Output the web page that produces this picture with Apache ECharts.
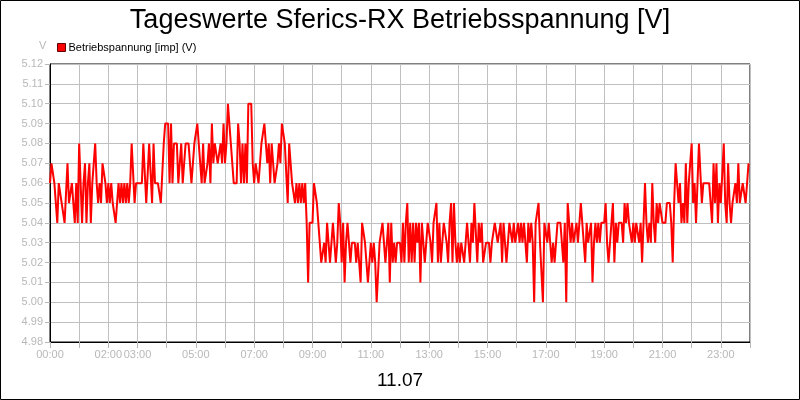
<!DOCTYPE html>
<html>
<head>
<meta charset="utf-8">
<script src="https://cdn.jsdelivr.net/npm/echarts@6/dist/echarts.min.js"></script>
<style>
html,body{margin:0;padding:0;background:#fff;}
#chart{width:800px;height:400px;}
</style>
</head>
<body>
<div id="chart"></div>
<script>
// ---- data (3-minute samples, 00:00 .. 23:57), one row per hour ----
const titleText = 'Tageswerte Sferics-RX Betriebsspannung [V]';
const dateText = '11.07';
const seriesName = 'Betriebspannung [imp] (V)';
const stepMinutes = 3;
const hourLabels = ['00:00','','02:00','03:00','','05:00','','07:00','','09:00','','11:00','','13:00','','15:00','','17:00','','19:00','','21:00','','23:00',''];
const yMin = 4.98, yMax = 5.12, yStep = 0.01;

const voltage = [
  5.06,5.07,5.07,5.06,5.06,5.04,5.06,5.06,5.05,5.05,5.04,5.04,5.07,5.05,5.05,5.06,5.06,5.04,5.06,5.04,
  5.08,5.06,5.04,5.06,5.07,5.04,5.06,5.07,5.04,5.06,5.07,5.08,5.06,5.05,5.06,5.05,5.07,5.07,5.06,5.05,
  5.06,5.05,5.06,5.05,5.05,5.04,5.04,5.06,5.05,5.06,5.05,5.06,5.05,5.06,5.05,5.06,5.08,5.08,5.05,5.06,
  5.06,5.06,5.06,5.06,5.08,5.08,5.05,5.05,5.08,5.08,5.05,5.08,5.06,5.06,5.06,5.06,5.05,5.05,5.08,5.09,
  5.09,5.09,5.06,5.09,5.06,5.08,5.08,5.08,5.06,5.06,5.08,5.06,5.07,5.08,5.08,5.08,5.07,5.06,5.06,5.08,
  5.08,5.09,5.09,5.07,5.06,5.08,5.06,5.06,5.07,5.08,5.06,5.09,5.07,5.08,5.08,5.07,5.07,5.08,5.07,5.09,
  5.07,5.08,5.10,5.10,5.08,5.08,5.06,5.06,5.06,5.09,5.08,5.06,5.08,5.06,5.08,5.06,5.10,5.10,5.10,5.07,
  5.06,5.07,5.07,5.06,5.07,5.08,5.08,5.09,5.09,5.07,5.08,5.06,5.08,5.07,5.06,5.06,5.07,5.08,5.07,5.09,
  5.09,5.08,5.08,5.05,5.08,5.07,5.06,5.06,5.05,5.06,5.05,5.06,5.05,5.06,5.05,5.06,5.04,5.01,5.04,5.04,
  5.04,5.06,5.06,5.05,5.04,5.04,5.02,5.02,5.03,5.02,5.04,5.04,5.02,5.02,5.04,5.03,5.02,5.03,5.05,5.04,
  5.02,5.04,5.01,5.03,5.04,5.04,5.02,5.03,5.03,5.03,5.02,5.03,5.03,5.01,5.04,5.04,5.03,5.02,5.01,5.01,
  5.03,5.02,5.03,5.02,5.00,5.00,5.03,5.03,5.04,5.04,5.02,5.03,5.04,5.01,5.04,5.02,5.03,5.02,5.03,5.03,
  5.03,5.02,5.04,5.02,5.04,5.05,5.02,5.04,5.02,5.04,5.02,5.04,5.03,5.04,5.01,5.04,5.04,5.02,5.03,5.04,
  5.04,5.03,5.02,5.04,5.04,5.05,5.02,5.04,5.02,5.03,5.04,5.04,5.03,5.02,5.04,5.05,5.02,5.05,5.03,5.02,
  5.03,5.02,5.03,5.03,5.02,5.03,5.04,5.04,5.02,5.04,5.03,5.05,5.05,5.02,5.04,5.03,5.04,5.02,5.02,5.03,
  5.03,5.03,5.02,5.03,5.03,5.04,5.04,5.03,5.03,5.04,5.02,5.04,5.03,5.02,5.02,5.04,5.04,5.03,5.04,5.03,
  5.03,5.04,5.03,5.04,5.03,5.04,5.04,5.02,5.04,5.03,5.04,5.03,5.00,5.04,5.04,5.05,5.03,5.03,5.00,5.04,
  5.04,5.03,5.04,5.03,5.02,5.03,5.02,5.03,5.04,5.04,5.04,5.04,5.02,5.04,5.00,5.05,5.05,5.03,5.04,5.03,
  5.03,5.04,5.03,5.04,5.05,5.05,5.03,5.02,5.04,5.03,5.03,5.04,5.01,5.03,5.04,5.03,5.04,5.03,5.04,5.04,
  5.04,5.05,5.03,5.02,5.03,5.04,5.05,5.02,5.04,5.03,5.04,5.04,5.04,5.03,5.05,5.04,5.05,5.04,5.04,5.03,
  5.04,5.03,5.04,5.04,5.03,5.04,5.02,5.04,5.06,5.04,5.03,5.04,5.03,5.06,5.04,5.03,5.05,5.04,5.05,5.05,
  5.04,5.04,5.04,5.05,5.05,5.05,5.04,5.02,5.05,5.07,5.06,5.05,5.06,5.04,5.05,5.04,5.07,5.04,5.06,5.06,
  5.08,5.05,5.06,5.04,5.06,5.08,5.08,5.05,5.06,5.06,5.06,5.06,5.06,5.06,5.04,5.07,5.05,5.07,5.04,5.06,
  5.05,5.05,5.08,5.05,5.04,5.07,5.05,5.04,5.05,5.05,5.06,5.05,5.07,5.05,5.05,5.06,5.06,5.05,5.05,5.07
];

const seriesData = voltage.map((v, i) => [i * stepMinutes, v]);

const chart = echarts.init(document.getElementById('chart'), null, {renderer: 'canvas'});
const font = 'Liberation Sans, Arial, sans-serif';
const gray = '#b8b8b8';

chart.setOption({
  animation: false,
  backgroundColor: '#fff',
  textStyle: {fontFamily: font},
  title: [{
    text: titleText,
    left: 'center',
    top: 2,
    textStyle: {fontFamily: font, fontSize: 27, fontWeight: 'normal', color: '#000'}
  }, {
    text: dateText,
    left: 'center',
    top: 366,
    textStyle: {fontFamily: font, fontSize: 19, fontWeight: 'normal', color: '#000'}
  }],
  legend: {
    left: 52,
    top: 37,
    itemWidth: 8,
    itemHeight: 8,
    itemGap: 10,
    icon: 'rect',
    textStyle: {fontFamily: font, fontSize: 11, color: '#000', padding: [0, 0, 0, -2]},
    data: [{name: seriesName, itemStyle: {color: '#ff0000', borderColor: '#600000', borderWidth: 1}}]
  },
  grid: {
    left: 50, right: 50, top: 64, bottom: 58,
    show: true, borderColor: '#000', borderWidth: 1, backgroundColor: 'transparent'
  },
  xAxis: {
    type: 'value',
    min: 0,
    max: 24 * 60,
    interval: 60,
    axisLine: {show: true, lineStyle: {color: '#000', width: 1}},
    axisTick: {show: true, length: 6, lineStyle: {color: gray}},
    splitLine: {show: true, lineStyle: {color: '#c0c0c0', width: 1}},
    axisLabel: {
      margin: 7,
      color: gray,
      fontSize: 11,
      fontFamily: font,
      showMinLabel: true,
      showMaxLabel: true,
      hideOverlap: false,
      formatter: function (v) { return hourLabels[Math.round(v / 60)] || ''; }
    }
  },
  yAxis: {
    type: 'value',
    min: yMin,
    max: yMax,
    interval: yStep,
    axisLine: {show: true, lineStyle: {color: '#000', width: 1}},
    axisTick: {show: true, length: 5, lineStyle: {color: gray}},
    splitLine: {show: true, lineStyle: {color: '#c0c0c0', width: 1}},
    axisLabel: {
      margin: 7,
      color: gray,
      fontSize: 11,
      fontFamily: font,
      showMinLabel: true,
      showMaxLabel: true,
      hideOverlap: false,
      formatter: function (v) { return v.toFixed(2); }
    }
  },
  graphic: [{
    type: 'text',
    left: 39,
    top: 40,
    style: {text: 'V', fill: gray, font: '11px ' + font}
  }, {
    type: 'rect',
    shape: {x: 0.5, y: 0.5, width: 799, height: 399},
    style: {fill: 'none', stroke: '#000', lineWidth: 1},
    silent: true
  }],
  series: [{
    name: seriesName,
    type: 'line',
    data: seriesData,
    symbol: 'none',
    lineStyle: {color: '#ff0000', width: 2},
    itemStyle: {color: '#ff0000'}
  }]
});
</script>
</body>
</html>
